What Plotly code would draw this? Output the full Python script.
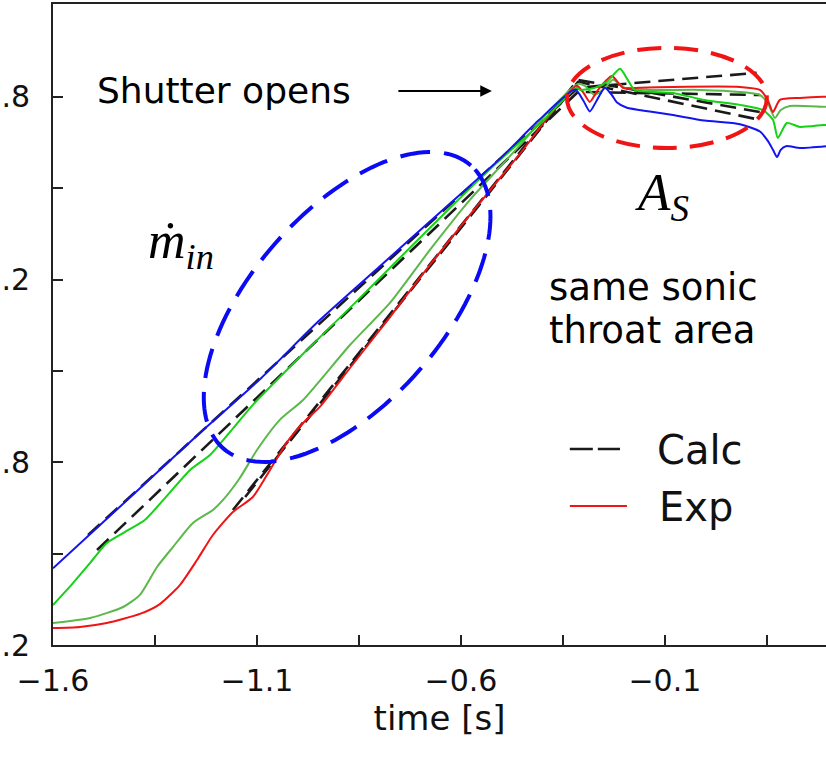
import numpy as np
import plotly.graph_objects as go

# ---------------- data ----------------
x_tickvals = [-1.6, -1.1, -0.6, -0.1]
x_ticktext = ["\u22121.6", "\u22121.1", "\u22120.6", "\u22120.1"]
x_minor = [-1.35, -0.85, -0.35, 0.15]
y_tickvals = [0, 1, 2, 3]
y_ticktext = [".2", ".8", ".2", ".8"]
y_minor = [0.5, 1.5, 2.5]

blue_t = [-1.60, -1.41, -1.24, -1.09, -0.95, -0.80, -0.65, -0.50, -0.41, -0.32, -0.30, -0.284, -0.267,
          -0.247, -0.23, -0.218, -0.193, -0.137, -0.08, -0.003, 0.084, 0.133, 0.152, 0.165, 0.175,
          0.184, 0.197, 0.231, 0.295]
blue_v = [0.42, 0.81, 1.16, 1.46, 1.77, 2.07, 2.37, 2.67, 2.87, 3.04, 2.98, 2.92, 2.98, 3.05, 3.01,
          2.97, 2.94, 2.92, 2.90, 2.87, 2.85, 2.81, 2.76, 2.71, 2.67, 2.71, 2.73, 2.72, 2.73]

green_t = [-1.60, -1.551, -1.509, -1.468, -1.424, -1.375, -1.325, -1.264, -1.215, -1.166, -1.110,
           -0.995, -0.872, -0.750, -0.627, -0.504, -0.406, -0.316, -0.308, -0.272, -0.242, -0.210,
           -0.191, -0.174, -0.080, -0.003, 0.084, 0.140, 0.165, 0.177, 0.199, 0.231, 0.287, 0.295]
green_v = [0.219, 0.339, 0.449, 0.558, 0.618, 0.684, 0.805, 0.958, 1.040, 1.166, 1.314,
           1.576, 1.845, 2.118, 2.392, 2.655, 2.852, 3.049, 3.038, 3.049, 3.082, 3.153,
           3.093, 3.038, 3.021, 2.983, 2.956, 2.928, 2.874, 2.775, 2.857, 2.835, 2.846, 2.846]

olive_t = [-1.60, -1.509, -1.428, -1.387, -1.345, -1.306, -1.257, -1.208, -1.183, -1.142, -1.100,
           -1.044, -0.987, -0.872, -0.774, -0.676, -0.578, -0.448, -0.382, -0.313, -0.296, -0.272,
           -0.247, -0.227, -0.198, -0.137, -0.014, 0.084, 0.133, 0.152, 0.170, 0.184, 0.206, 0.287, 0.295]
olive_v = [0.120, 0.148, 0.208, 0.274, 0.427, 0.536, 0.668, 0.739, 0.794, 0.914, 1.067,
           1.232, 1.341, 1.642, 1.872, 2.162, 2.436, 2.753, 2.928, 3.071, 3.060, 3.010,
           3.049, 3.093, 3.049, 3.038, 3.038, 3.027, 3.010, 2.967, 2.884, 2.928, 2.950, 2.945, 2.945]

red_t = [-1.60, -1.534, -1.468, -1.387, -1.338, -1.289, -1.247, -1.208, -1.159, -1.110, -1.068,
         -1.026, -0.987, -0.946, -0.872, -0.774, -0.676, -0.578, -0.448, -0.382, -0.316, -0.301,
         -0.284, -0.264, -0.230, -0.203, -0.161, -0.080, 0.084, 0.133, 0.152, 0.165, 0.182, 0.231,
         0.287, 0.295]
red_v = [0.093, 0.099, 0.120, 0.170, 0.224, 0.328, 0.465, 0.602, 0.728, 0.810, 0.958,
         1.111, 1.215, 1.303, 1.516, 1.795, 2.080, 2.354, 2.709, 2.901, 3.060, 3.027,
         2.972, 3.038, 3.114, 3.049, 3.049, 3.054, 3.054, 3.038, 2.983, 2.917, 2.983, 2.994,
         3.000, 3.000]

calc1_t = [-1.514, -0.313, 0.125]
calc1_v = [0.602, 3.050, 3.131]
calc2_t = [-1.492, -0.313, 0.133]
calc2_v = [0.520, 3.027, 3.010]
calc3_t = [-1.159, -0.313, 0.133]
calc3_v = [0.739, 3.093, 2.917]
calc4_t = [-1.129, -0.313, 0.133]
calc4_v = [0.810, 3.082, 2.874]

# ---------------- figure ----------------
fig = go.Figure()
CALC_STYLE = dict(color="#1a1a1a", width=2.6, dash="16px,8px")
for ct, cv in [(calc1_t, calc1_v), (calc2_t, calc2_v), (calc3_t, calc3_v), (calc4_t, calc4_v)]:
    fig.add_trace(go.Scatter(x=ct, y=cv, mode="lines", line=CALC_STYLE, showlegend=False))

for tt, vv, col in [(olive_t, olive_v, "#5cb84a"), (red_t, red_v, "#f01414"),
                    (green_t, green_v, "#14d214"), (blue_t, blue_v, "#1414f0")]:
    fig.add_trace(go.Scatter(x=tt, y=vv, mode="lines", line=dict(color=col, width=2, shape="spline",
                                                                  smoothing=0.6),
                             showlegend=False))

# ---- blue dashed ellipse (rotated) ----
PX_PER_S = 408.0
PX_PER_U = 182.7
ell_ct, ell_cv = -0.879, 1.850
a_px, b_px, th = 188.0, 96.0, np.radians(48.8)
phi = np.linspace(0, 2 * np.pi, 145)
dx = a_px * np.cos(phi) * np.cos(th) - b_px * np.sin(phi) * np.sin(th)
dy = a_px * np.cos(phi) * np.sin(th) + b_px * np.sin(phi) * np.cos(th)
et = ell_ct + dx / PX_PER_S
ev = ell_cv + dy / PX_PER_U
path = "M " + " L ".join(f"{a:.4f},{b:.4f}" for a, b in zip(et, ev)) + " Z"
fig.add_shape(type="path", path=path, xref="x", yref="y",
              line=dict(color="#0a0af5", width=4, dash="30px,14px"))

# ---- red dashed ellipse ----
fig.add_shape(type="circle", xref="x", yref="y", x0=-0.340, x1=0.150, y0=2.720, y1=3.268,
              line=dict(color="#f01414", width=4, dash="24px,13px"))

SANS = "DejaVu Sans"
SERIF = "Liberation Serif, DejaVu Serif, serif"

# ---- legend drawn by hand ----
fig.add_shape(type="line", xref="x", yref="y", x0=-0.333, x1=-0.210, y0=1.073, y1=1.073,
              line=dict(color="#1a1a1a", width=2.6, dash="23px,5px"))
fig.add_shape(type="line", xref="x", yref="y", x0=-0.333, x1=-0.193, y0=0.761, y1=0.761,
              line=dict(color="#f01414", width=2))
fig.add_annotation(x=-0.124, y=1.067, text="Calc", showarrow=False, xanchor="left", yanchor="middle",
                   font=dict(family=SANS, size=40, color="#111"))
fig.add_annotation(x=-0.120, y=0.755, text="Exp", showarrow=False, xanchor="left", yanchor="middle",
                   font=dict(family=SANS, size=40, color="#111"))

# ---- text annotations ----
fig.add_annotation(x=-1.497, y=3.032, text="Shutter opens", showarrow=False, xanchor="left",
                   yanchor="middle", font=dict(family=SANS, size=36, color="#000"))
fig.add_annotation(x=-0.524, y=3.032, ax=-0.757, ay=3.032, axref="x", ayref="y", xref="x", yref="y",
                   text="", showarrow=True, arrowhead=2, arrowsize=1.3, arrowwidth=1.8,
                   arrowcolor="#000", standoff=0, startstandoff=0)
fig.add_annotation(x=-0.389, y=1.954, text="same sonic", showarrow=False, xanchor="left",
                   yanchor="middle", font=dict(family=SANS, size=37, color="#000"))
fig.add_annotation(x=-0.389, y=1.719, text="throat area", showarrow=False, xanchor="left",
                   yanchor="middle", font=dict(family=SANS, size=37, color="#000"))
fig.add_annotation(x=-1.285, y=2.19, text="<i>\u1e41<sub>in</sub></i>", showarrow=False,
                   xanchor="center", yanchor="middle", font=dict(family=SERIF, size=52, color="#000"))
fig.add_annotation(x=-0.108, y=2.46, text="<i>A<sub>S</sub></i>", showarrow=False,
                   xanchor="center", yanchor="middle", font=dict(family=SERIF, size=53, color="#000"))

AX_LINE = "#222"
fig.update_xaxes(range=[-1.6, 0.295], tickmode="array", tickvals=x_tickvals, ticktext=x_ticktext,
                 ticks="inside", ticklen=10, tickwidth=2, tickcolor=AX_LINE,
                 minor=dict(tickmode="array", tickvals=x_minor, ticks="inside", ticklen=10,
                            tickwidth=2, tickcolor=AX_LINE, showgrid=False),
                 showline=True, linecolor=AX_LINE, linewidth=2, mirror=True,
                 showgrid=False, zeroline=False, ticklabelstandoff=8,
                 tickfont=dict(family=SANS, size=30, color="#111"),
                 title=dict(text="time [s]", font=dict(family=SANS, size=34, color="#111"), standoff=9))
fig.update_yaxes(range=[0, 3.508], tickmode="array", tickvals=y_tickvals, ticktext=y_ticktext,
                 ticks="inside", ticklen=10, tickwidth=2, tickcolor=AX_LINE,
                 minor=dict(tickmode="array", tickvals=y_minor, ticks="inside", ticklen=10,
                            tickwidth=2, tickcolor=AX_LINE, showgrid=False),
                 showline=True, linecolor=AX_LINE, linewidth=2, mirror=False,
                 showgrid=False, zeroline=False, ticklabelstandoff=15,
                 tickfont=dict(family=SANS, size=30, color="#111"))

fig.update_layout(width=826, height=757, margin=dict(l=53, r=0, t=4, b=112, autoexpand=False),
                  plot_bgcolor="white", paper_bgcolor="white", showlegend=False)

fig.write_html("out.html")
